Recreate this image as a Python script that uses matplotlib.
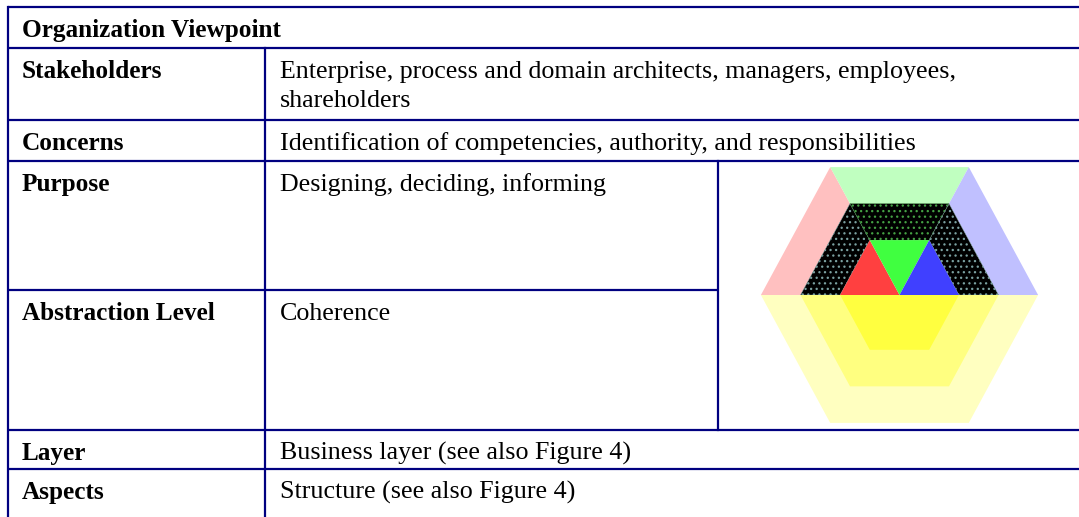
import numpy as np
import matplotlib
matplotlib.use("Agg")
import matplotlib.pyplot as plt
from matplotlib.patches import Polygon

plt.rcParams['font.family'] = ['Liberation Serif', 'DejaVu Serif']
plt.rcParams['hatch.linewidth'] = 0.9

# table content
title = "Organization Viewpoint"
labels = ["Stakeholders", "Concerns", "Purpose", "Abstraction Level", "Layer", "Aspects"]
texts = ["Enterprise, process and domain architects, managers, employees,\nshareholders",
         "Identification of competencies, authority, and responsibilities",
         "Designing, deciding, informing",
         "Coherence",
         "Business layer (see also Figure 4)",
         "Structure (see also Figure 4)"]
# row borders (px from top) and column borders (px from left)
row_lines = [7, 48, 120, 161, 290, 430, 469, 540]
col_lines = [8, 265, 718, 1100]
pic_rows = (3, 4)   # rows that share the picture cell

# hexagon picture: ring radii, sector angles and colours
ring_r = [1.5, 2.5, 3.5]
top_outer = [((120, 180), '#ffc0c0'), ((60, 120), '#c0ffc0'), ((0, 60), '#c0c0ff')]
top_middle = [((120, 180), '#7aa0a0'), ((60, 120), '#44a044'), ((0, 60), '#7aa0a0')]
top_inner = [((120, 180), '#ff4040'), ((60, 120), '#40ff40'), ((0, 60), '#4040ff')]
bottom_cols = ['#ffffc0', '#ffff80', '#ffff40']   # outer -> inner

W, H = 1079, 517
fig = plt.figure(figsize=(W / 100, H / 100), dpi=100)
ax = fig.add_axes([0, 0, 1, 1])
ax.set_xlim(0, W)
ax.set_ylim(H, 0)
ax.axis('off')

navy = '#000080'
lw = 1.6
# horizontal lines
for i, y in enumerate(row_lines):
    x_end = col_lines[2] if i == pic_rows[1] else col_lines[-1]
    ax.plot([col_lines[0], x_end], [y, y], color=navy, lw=lw, solid_capstyle='butt')
# vertical lines
ax.plot([col_lines[0]] * 2, [row_lines[0], row_lines[-1]], color=navy, lw=lw)
ax.plot([col_lines[1]] * 2, [row_lines[1], row_lines[-1]], color=navy, lw=lw)
ax.plot([col_lines[2]] * 2, [row_lines[pic_rows[0]], row_lines[pic_rows[1] + 1]], color=navy, lw=lw)

fs_b, fs_r = 18.2, 18.7
pad, base = 14, 30
ax.text(col_lines[0] + pad, row_lines[0] + base, title, fontsize=fs_b, fontweight='bold', va='baseline')
for i, (lab, txt) in enumerate(zip(labels, texts)):
    y0 = row_lines[i + 1] + base
    ax.text(col_lines[0] + pad, y0, lab, fontsize=fs_b, fontweight='bold', va='baseline')
    for k, line in enumerate(txt.split('\n')):
        ax.text(col_lines[1] + 15, y0 + k * 29, line, fontsize=fs_r, va='baseline')

# hexagon
cx, cy = 899.5, 295.0
sx, sy = 39.6, 42.2


def pt(r, a):
    t = np.radians(a)
    return (cx + r * np.cos(t) * sx, cy - r * np.sin(t) * sy)


def sector(r_in, r_out, a0, a1):
    if r_in == 0:
        return [(cx, cy), pt(r_out, a0), pt(r_out, a1)]
    return [pt(r_out, a0), pt(r_out, a1), pt(r_in, a1), pt(r_in, a0)]


for (a0, a1), c in top_outer:
    ax.add_patch(Polygon(sector(ring_r[1], ring_r[2], a0, a1), closed=True, fc=c, ec='none', lw=0))
for (a0, a1), c in top_middle:
    ax.add_patch(Polygon(sector(ring_r[0], ring_r[1], a0, a1), closed=True, fc='black', ec=c,
                         lw=0.3, hatch='...'))
for (a0, a1), c in top_inner:
    ax.add_patch(Polygon(sector(0, ring_r[0], a0, a1), closed=True, fc=c, ec='none', lw=0))
for r, c in zip(ring_r[::-1], bottom_cols):
    ax.add_patch(Polygon([pt(r, a) for a in (180, 240, 300, 360)], closed=True, fc=c, ec='none', lw=0))

fig.savefig('out.png', dpi=100)
